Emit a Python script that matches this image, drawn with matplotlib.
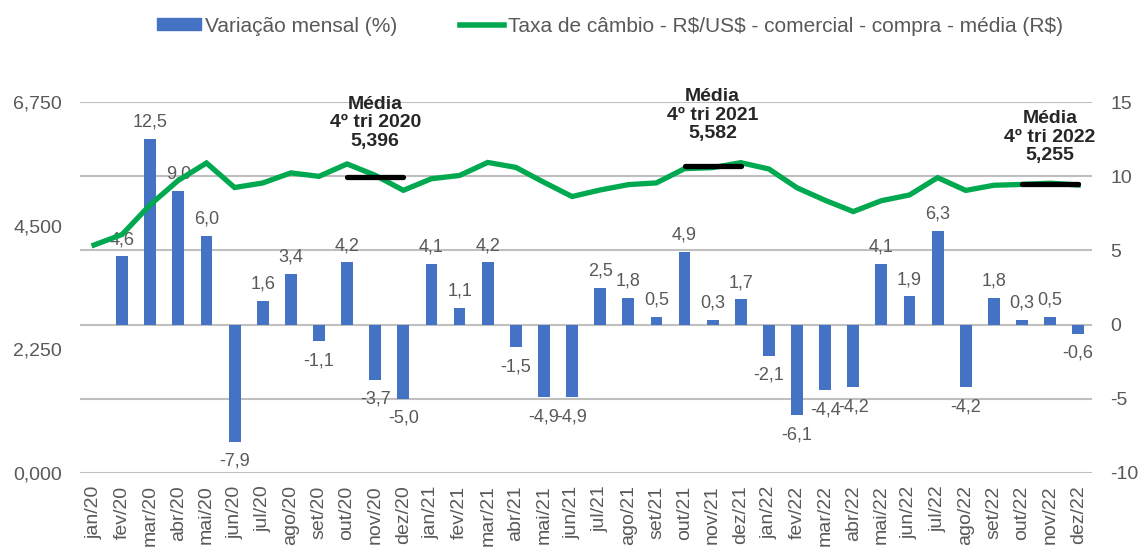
import matplotlib.pyplot as plt
from matplotlib.patches import Patch
from matplotlib.lines import Line2D

plt.rcParams['font.family'] = ['Liberation Sans', 'DejaVu Sans']

meses = ['jan/20', 'fev/20', 'mar/20', 'abr/20', 'mai/20', 'jun/20', 'jul/20', 'ago/20', 'set/20',
         'out/20', 'nov/20', 'dez/20', 'jan/21', 'fev/21', 'mar/21', 'abr/21', 'mai/21', 'jun/21',
         'jul/21', 'ago/21', 'set/21', 'out/21', 'nov/21', 'dez/21', 'jan/22', 'fev/22', 'mar/22',
         'abr/22', 'mai/22', 'jun/22', 'jul/22', 'ago/22', 'set/22', 'out/22', 'nov/22', 'dez/22']

cambio = [4.149, 4.341, 4.883, 5.327, 5.642, 5.196, 5.278, 5.462, 5.399, 5.625, 5.418, 5.145,
          5.356, 5.415, 5.652, 5.563, 5.291, 5.032, 5.151, 5.248, 5.280, 5.539, 5.558, 5.648,
          5.533, 5.191, 4.963, 4.758, 4.956, 5.060, 5.376, 5.143, 5.237, 5.252, 5.275, 5.241]

# jan/20 sem variacao
variacao = [None, 4.6, 12.5, 9.0, 6.0, -7.9, 1.6, 3.4, -1.1, 4.2, -3.7, -5.0,
            4.1, 1.1, 4.2, -1.5, -4.9, -4.9, 2.5, 1.8, 0.5, 4.9, 0.3, 1.7,
            -2.1, -6.1, -4.4, -4.2, 4.1, 1.9, 6.3, -4.2, 1.8, 0.3, 0.5, -0.6]

medias = [5.396, 5.582, 5.255]
medias_anos = ['2020', '2021', '2022']
medias_ini = [9, 21, 33]
medias_fim = [11, 23, 35]
medias_txt_x = [10, 22, 34]
medias_txt_y = [6.86, 7.0, 6.6]

azul = '#4472C4'
verde = '#00A84F'
cinza = '#595959'

fig = plt.figure(figsize=(11.47, 5.47), dpi=100)
ax = fig.add_axes([0.0697, 0.1353, 0.8826, 0.678])
ax2 = ax.twinx()

x = list(range(len(meses)))

# barras no eixo direito
xb = [i for i, v in zip(x, variacao) if v is not None]
vb = [v for v in variacao if v is not None]
ax2.bar(xb, vb, width=0.42, color=azul, zorder=2)
for i, v in zip(xb, vb):
    txt = f'{v:.1f}'.replace('.', ',')
    if v >= 0:
        ax2.annotate(txt, (i, v), xytext=(0, 6), textcoords='offset points',
                     ha='center', va='bottom', fontsize=13, color=cinza)
    else:
        ax2.annotate(txt, (i, v), xytext=(0, -8), textcoords='offset points',
                     ha='center', va='top', fontsize=13, color=cinza)

ax2.set_ylim(-10, 15)
ax2.set_yticks([-10, -5, 0, 5, 10, 15])
ax2.set_yticklabels(['-10', '-5', '0', '5', '10', '15'])
ax2.grid(axis='y', color='#BFBFBF', linewidth=1.5, zorder=0)
ax2.set_axisbelow(True)

# linha do cambio no eixo esquerdo
ax.plot(x, cambio, color=verde, linewidth=3.8, solid_joinstyle='miter', zorder=3)
for m, a, i0, i1, tx, ty in zip(medias, medias_anos, medias_ini, medias_fim, medias_txt_x, medias_txt_y):
    ax.plot([i0, i1], [m, m], color='black', linewidth=3.8, solid_capstyle='round', zorder=4)
    ax.text(tx, ty, f'Média\n4º tri {a}\n' + f'{m:.3f}'.replace('.', ','),
            ha='center', va='top', fontsize=14, fontweight='bold', color='#262626',
            linespacing=1.1)

ax.set_ylim(0, 6.75)
ax.set_yticks([0, 2.25, 4.5, 6.75])
ax.set_yticklabels(['0,000', '2,250', '4,500', '6,750'])
ax.set_xlim(-0.5, len(meses) - 0.5)
ax.set_xticks(x)
ax.set_xticklabels(meses, rotation=90)

ax.set_zorder(ax2.get_zorder() + 1)
ax.patch.set_visible(False)

for a in (ax, ax2):
    for s in a.spines.values():
        s.set_visible(False)
    a.tick_params(length=0, labelsize=14, colors=cinza)
ax.tick_params(axis='x', labelsize=14, pad=9)
ax.tick_params(axis='y', pad=13)
ax2.tick_params(axis='y', pad=13)

handles = [Patch(color=azul), Line2D([], [], color=verde, linewidth=4)]
fig.legend(handles, ['Variação mensal (%)', 'Taxa de câmbio - R$/US$ - comercial - compra - média (R$)'],
           loc='center', bbox_to_anchor=(0.532, 0.952), ncol=2, frameon=False, fontsize=15,
           handlelength=2.1, handleheight=0.5, handletextpad=0.2, columnspacing=3.0,
           labelcolor=cinza)

fig.savefig('out.png', dpi=100)
